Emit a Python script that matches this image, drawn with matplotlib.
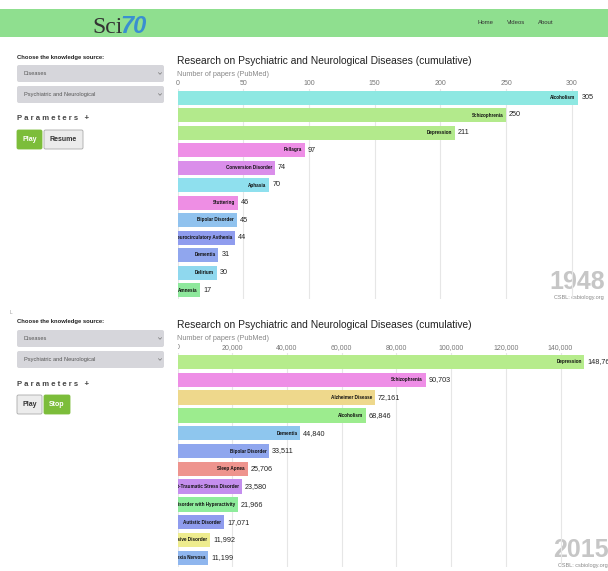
import matplotlib.pyplot as plt
from matplotlib.patches import FancyBboxPatch, Rectangle
from matplotlib.transforms import Bbox, TransformedBbox

plt.rcParams['font.family'] = ['Liberation Sans', 'DejaVu Sans']

W, H = 608, 571

# frame 1948
names_1948 = ["Alcoholism", "Schizophrenia", "Depression", "Pellagra", "Conversion Disorder",
              "Aphasia", "Stuttering", "Bipolar Disorder", "Neurocirculatory Asthenia",
              "Dementia", "Delirium", "Amnesia"]
values_1948 = [305, 250, 211, 97, 74, 70, 46, 45, 44, 31, 30, 17]
colors_1948 = ["#8ee8e2", "#b3ea8c", "#b3ea8c", "#ee8ee6", "#da8eea", "#8fe0ee",
               "#ee8ee4", "#90c2ee", "#8f9cee", "#90a6ee", "#8fd8ee", "#8ee89c"]
ticks_1948 = [0, 50, 100, 150, 200, 250, 300]

# frame 2015
names_2015 = ["Depression", "Schizophrenia", "Alzheimer Disease", "Alcoholism", "Dementia",
              "Bipolar Disorder", "Sleep Apnea", "Post-Traumatic Stress Disorder",
              "Attention Deficit Disorder with Hyperactivity", "Autistic Disorder",
              "Obsessive-Compulsive Disorder", "Anorexia Nervosa"]
values_2015 = [148764, 90703, 72161, 68846, 44840, 33511, 25706, 23580, 21966, 17071, 11992, 11199]
colors_2015 = ["#b6ec8c", "#ee8ee6", "#eed88c", "#9cec8e", "#8ec6ee", "#8fa6ee",
               "#ee948e", "#c48eee", "#8eec9c", "#8f9cee", "#eeec8e", "#8fb6ee"]
ticks_2015 = [0, 20000, 40000, 60000, 80000, 100000, 120000, 140000]

TITLE = "Research on Psychiatric and Neurological Diseases (cumulative)"

fig = plt.figure(figsize=(W / 100, H / 100), dpi=100)
bg = fig.add_axes([0, 0, 1, 1])
bg.set_xlim(0, W)
bg.set_ylim(H, 0)
bg.axis('off')


def px_axes(left, top, right, bottom):
    return fig.add_axes([left / W, 1 - bottom / H, (right - left) / W, (bottom - top) / H])


# header bar
bg.add_patch(Rectangle((0, 9), W, 28, color='#8fdf8f', lw=0))
bg.text(92, 33, "Sci", fontsize=17, family='Liberation Serif', color='#333333')
bg.text(120, 33, "70", fontsize=17, family='Liberation Sans', style='italic',
        weight='bold', color='#3a8fd0')
for label, x in [("Home", 478), ("Videos", 507), ("About", 538)]:
    bg.text(x, 23, label, fontsize=4.3, color='#333333', va='center')


def chevron(x, y):
    bg.plot([x - 1.5, x, x + 1.5], [y - 0.8, y + 0.8, y - 0.8], color='#777777', lw=0.5)


def side_panel(dy, green_first):
    bg.text(17, 57 + dy, "Choose the knowledge source:", fontsize=4.2, weight='bold',
            color='#222222', va='center')
    for (y0, y1, txt) in [(65, 82, "Diseases"), (86, 103, "Psychiatric and Neurological")]:
        bg.add_patch(FancyBboxPatch((17, y0 + dy), 147, y1 - y0,
                                    boxstyle="round,pad=0,rounding_size=2",
                                    fc='#d6d6db', ec='none'))
        bg.text(24, (y0 + y1) / 2 + dy, txt, fontsize=4.1, color='#555555', va='center')
        chevron(160, (y0 + y1) / 2 + dy)
    bg.text(17, 119 + dy, "P a r a m e t e r s   +", fontsize=5.6, weight='bold',
            color='#444444', va='center')
    if green_first:
        buttons = [(17, 25, "Play", True), (44, 39, "Resume", False)]
    else:
        buttons = [(17, 25, "Play", False), (44, 26, "Stop", True)]
    for (x, w, txt, green) in buttons:
        fc = '#7cbd3a' if green else '#ececec'
        ec = '#7cbd3a' if green else '#aaaaaa'
        bg.add_patch(FancyBboxPatch((x, 130 + dy), w, 19,
                                    boxstyle="round,pad=0,rounding_size=1.5",
                                    fc=fc, ec=ec, lw=0.6))
        bg.text(x + w / 2, 139.5 + dy, txt, fontsize=5, weight='bold',
                color='white' if green else '#333333', ha='center', va='center')


side_panel(0, True)
side_panel(265, False)
bg.text(10, 313, "L", fontsize=3.5, color='#999999', va='center')


def chart(top, bottom, right, px_per_unit, names, values, colors, ticks, fmt,
          title_y, year, year_x, clip_zero=False):
    left = 177.5
    ax = px_axes(left, top, right, bottom)
    ax.set_xlim(0, (right - left) / px_per_unit)
    ax.set_ylim(len(names) - 0.5, -0.5)
    ax.barh(range(len(names)), values, height=0.8, color=colors, zorder=2)
    for i, (n, v) in enumerate(zip(names, values)):
        ax.annotate(n, (v, i), xytext=(-2, 0), textcoords='offset points', ha='right',
                    va='center', fontsize=3.3, weight='bold', color='#111111',
                    annotation_clip=False, clip_on=True)
        ax.annotate(fmt(v), (v, i), xytext=(2.2, 0), textcoords='offset points',
                    ha='left', va='center', fontsize=5.2, color='#222222',
                    annotation_clip=False)
    ax.set_xticks(ticks)
    ax.set_xticklabels([fmt(t) for t in ticks])
    ax.xaxis.tick_top()
    ax.tick_params(axis='x', length=0, pad=1.5, labelsize=5, labelcolor='#777777')
    ax.set_yticks([])
    ax.grid(axis='x', color='#e6e6e6', lw=0.8, zorder=0)
    ax.set_axisbelow(True)
    for s in ax.spines.values():
        s.set_visible(False)
    ax.patch.set_alpha(0)
    if clip_zero:
        box = TransformedBbox(Bbox.from_extents(178 / W, 0, 1, 1), fig.transFigure)
        ax.get_xticklabels()[0].set_clip_box(box)
        ax.get_xticklabels()[0].set_clip_on(True)
    bg.text(177, title_y, TITLE, fontsize=7.4, color='#222222', va='center')
    bg.text(177, title_y + 13, "Number of papers (PubMed)", fontsize=5.2,
            color='#888888', va='center')
    bg.text(year_x, bottom - 10, year, fontsize=18, weight='bold', color='#c6c6c6',
            ha='left', va='baseline')
    bg.text(year_x + 5, bottom - 1.5, "CSBL: csbiology.org", fontsize=4, color='#888888',
            ha='left', va='center')
    return ax


chart(88.75, 298.75, 600, 1.314, names_1948, values_1948, colors_1948, ticks_1948,
      lambda v: f"{v:d}", 61, "1948", 549)
chart(353.1, 566.7, 600, 383 / 140000, names_2015, values_2015, colors_2015, ticks_2015,
      lambda v: f"{v:,d}", 325, "2015", 553, clip_zero=True)

fig.savefig("out.png", dpi=100, facecolor='white')
